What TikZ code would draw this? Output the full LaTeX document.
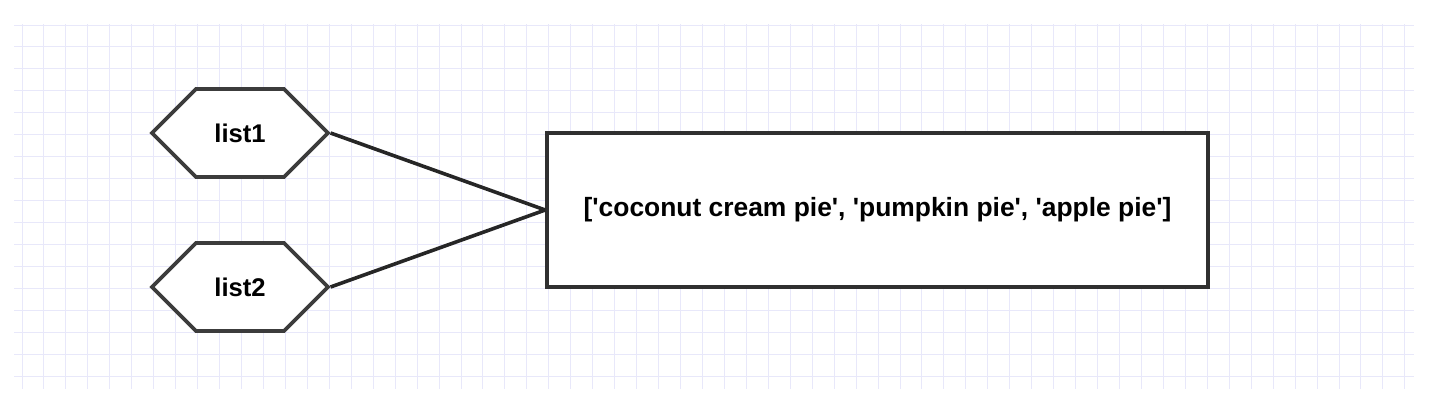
\documentclass[tikz,border=0pt]{standalone}
\usepackage{fontspec}
\setmainfont{Liberation Sans}[Ligatures=TeXOff]
\usepackage{tikz}
\usetikzlibrary{shapes,arrows,positioning}
\definecolor{gridblue}{RGB}{232, 232, 250}
\definecolor{edge}{RGB}{60, 60, 60}
\tikzset{
  listhex/.style={signal, signal to=west and east, signal pointer angle=90, draw=edge, fill=white,
    line width=1.8pt, minimum width=88pt, minimum height=44pt, inner sep=0pt, font=\fontsize{12.8}{15}\selectfont\bfseries},
  valuebox/.style={rectangle, draw=edge!80!black, fill=white, line width=1.8pt, minimum width=330.5pt,
    minimum height=77pt, font=\fontsize{13.2}{15}\selectfont\bfseries},
  link/.style={draw=black!85, line width=1.8pt}
}

\begin{document}
\begin{tikzpicture}[x=0.5pt,y=-0.5pt]
\useasboundingbox (0,0) rectangle (1434,412);
% grid paper
\foreach \i in {0,...,63} \draw [gridblue, line width=0.5pt] ({22+\i*21.95},24) -- ({22+\i*21.95},389);
\foreach \j in {0,...,16} \draw [gridblue, line width=0.5pt] (14,{25+\j*21.95}) -- (1414,{25+\j*21.95});

\node [listhex] (list1) at (240,133) {list1};
\node [listhex] (list2) at (240,287) {list2};
\node [valuebox] (pies) at (877.5,210) {['coconut cream pie', 'pumpkin pie', 'apple pie']};

\draw [link] (list1.east) -- (pies.west);
\draw [link] (list2.east) -- (pies.west);
\end{tikzpicture}
\end{document}
